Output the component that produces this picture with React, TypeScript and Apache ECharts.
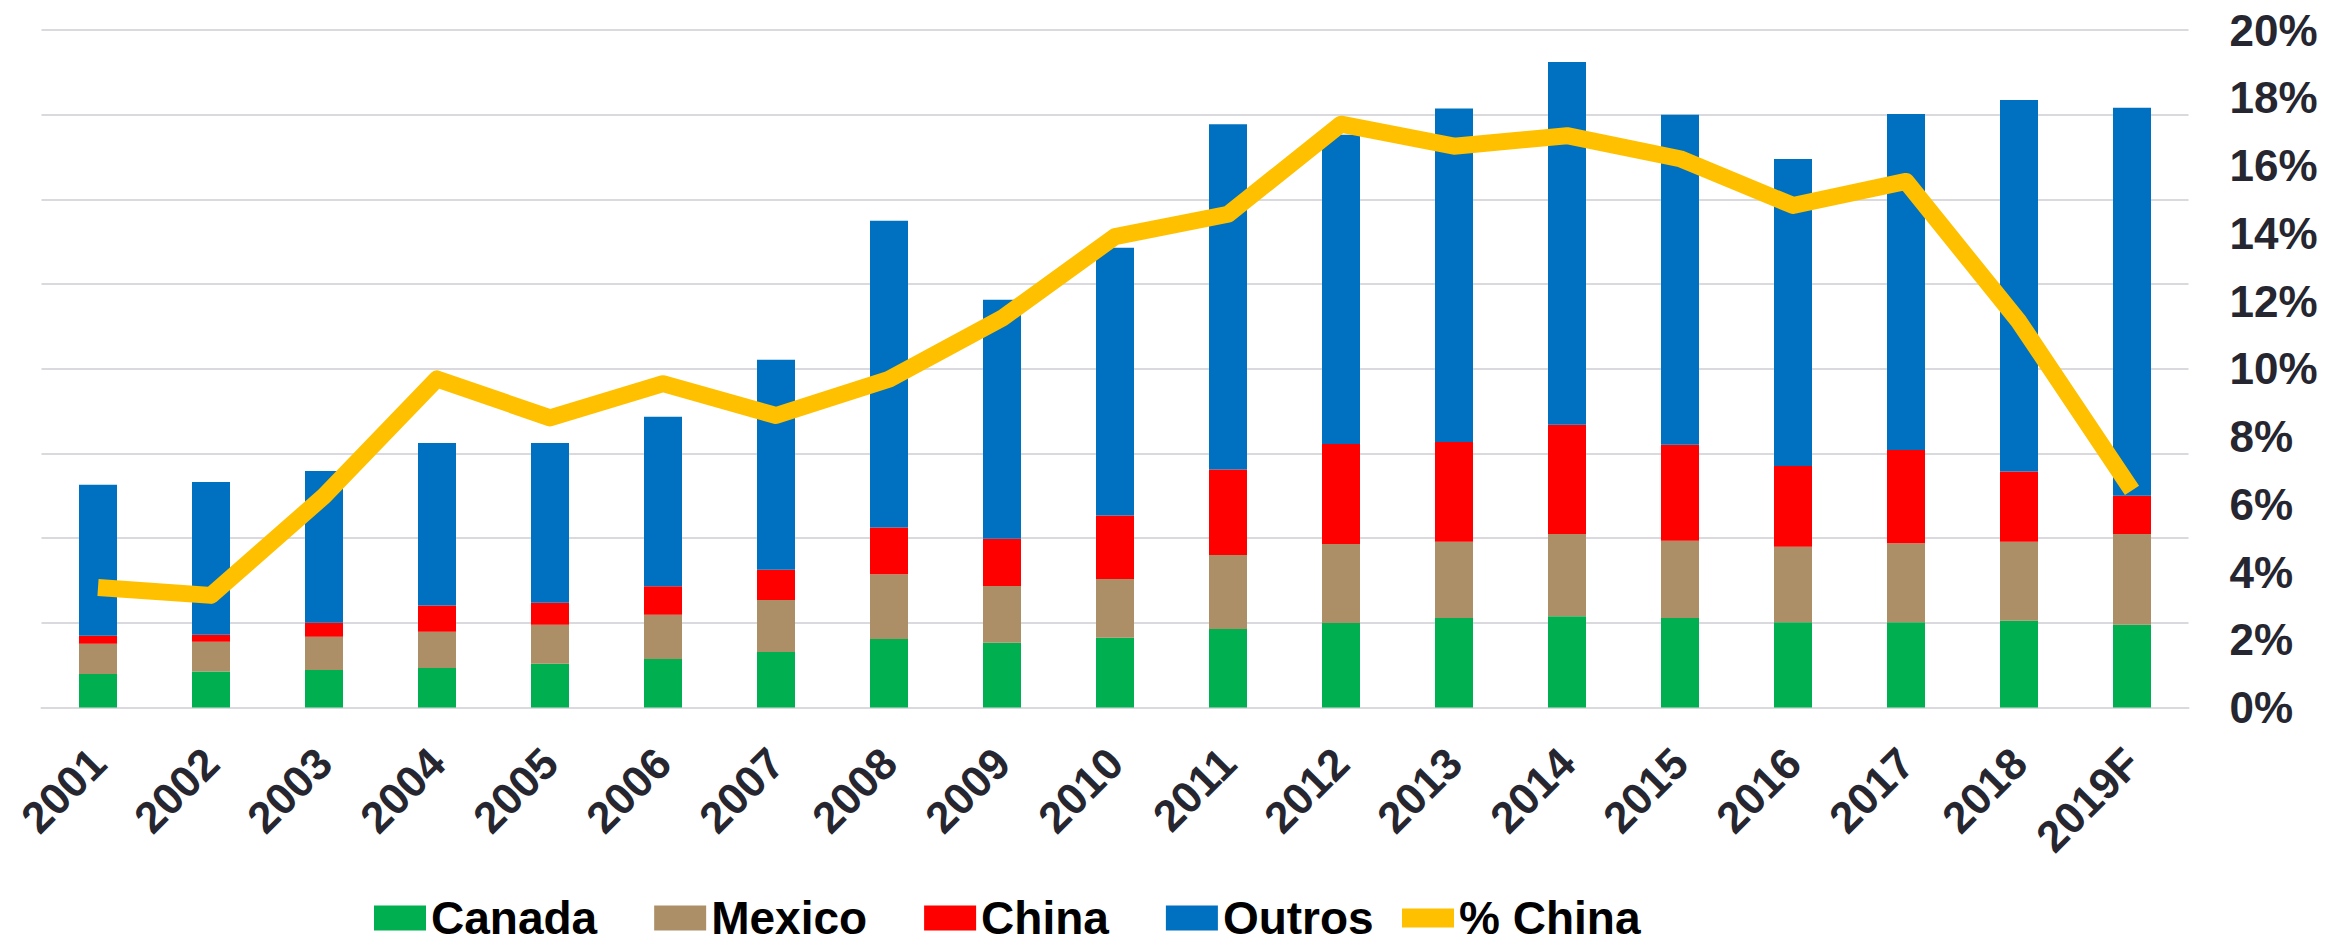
import React, { useEffect, useRef } from "react";
import * as echarts from "echarts";

const categories = ["2001", "2002", "2003", "2004", "2005", "2006", "2007", "2008", "2009", "2010", "2011", "2012", "2013", "2014", "2015", "2016", "2017", "2018", "2019F"];
const canada = [1.98, 2.12, 2.22, 2.33, 2.58, 2.87, 3.28, 4.04, 3.82, 4.12, 4.64, 4.99, 5.29, 5.39, 5.29, 5.04, 5.04, 5.12, 4.88];
const mexico = [1.79, 1.76, 1.96, 2.14, 2.30, 2.60, 3.07, 3.82, 3.36, 3.47, 4.36, 4.66, 4.50, 4.85, 4.55, 4.45, 4.66, 4.66, 5.37];
const china = [0.46, 0.41, 0.82, 1.55, 1.31, 1.69, 1.79, 2.77, 2.79, 3.75, 5.05, 5.91, 5.89, 6.46, 5.67, 4.77, 5.50, 4.15, 2.25];
const outros = [8.92, 9.03, 8.97, 9.60, 9.43, 10.00, 12.39, 18.11, 14.10, 15.80, 20.38, 18.25, 19.68, 21.41, 19.49, 18.13, 19.84, 21.93, 22.91];
const pctChina = [3.54, 3.31, 6.24, 9.70, 8.55, 9.56, 8.62, 9.69, 11.49, 13.90, 14.56, 17.22, 16.57, 16.88, 16.20, 14.82, 15.53, 11.39, 6.41];

const FONT = "'Liberation Sans', Arial, sans-serif";
const AXIS_TEXT = "#262631";
const GRID = "#D9D9DE";

export default function App() {
  const ref = useRef<HTMLDivElement>(null);
  useEffect(() => {
    const chart = echarts.init(ref.current!, null, { renderer: "svg" });
    const legendText = { fontSize: 46, fontWeight: "bold", color: "#000", fontFamily: FONT };
    chart.setOption({
      animation: false,
      backgroundColor: "#fff",
      grid: { left: 41.5, right: 162.5, top: 30, bottom: 240.5, containLabel: false },
      legend: [
        {
          data: ["Canada", "Mexico", "China", "Outros"],
          left: 374,
          top: 895,
          padding: 0,
          itemWidth: 52,
          itemHeight: 25,
          itemGap: 57,
          icon: "rect",
          textStyle: legendText,
        },
        {
          data: ["% China"],
          left: 1402,
          top: 895,
          padding: 0,
          itemWidth: 52,
          itemHeight: 19,
          icon: "rect",
          textStyle: legendText,
        },
      ],
      xAxis: {
        type: "category",
        data: categories,
        axisLine: { show: true, lineStyle: { color: GRID, width: 2 } },
        axisTick: { show: false },
        axisLabel: {
          interval: 0,
          rotate: 45,
          margin: 48,
          fontSize: 44,
          fontWeight: "bold",
          color: AXIS_TEXT,
          fontFamily: FONT,
        },
      },
      yAxis: [
        {
          type: "value",
          min: 0,
          max: 40,
          interval: 5,
          axisLabel: { show: false },
          axisLine: { show: false },
          axisTick: { show: false },
          splitLine: { show: true, lineStyle: { color: GRID, width: 2 } },
        },
        {
          type: "value",
          position: "right",
          min: 0,
          max: 20,
          interval: 2,
          axisLabel: {
            formatter: "{value}%",
            margin: 41,
            fontSize: 44,
            fontWeight: "bold",
            color: AXIS_TEXT,
            fontFamily: FONT,
          },
          axisLine: { show: false },
          axisTick: { show: false },
          splitLine: { show: false },
        },
      ],
      series: [
        { name: "Canada", type: "bar", stack: "total", barWidth: 38, data: canada, itemStyle: { color: "#00B050" } },
        { name: "Mexico", type: "bar", stack: "total", barWidth: 38, data: mexico, itemStyle: { color: "#AD8F67" } },
        { name: "China", type: "bar", stack: "total", barWidth: 38, data: china, itemStyle: { color: "#FF0000" } },
        { name: "Outros", type: "bar", stack: "total", barWidth: 38, data: outros, itemStyle: { color: "#0070C0" } },
        {
          name: "% China",
          type: "line",
          yAxisIndex: 1,
          data: pctChina,
          symbol: "none",
          z: 5,
          itemStyle: { color: "#FFC000" },
          lineStyle: { color: "#FFC000", width: 17, join: "round", cap: "butt" },
        },
      ],
    });
    return () => chart.dispose();
  }, []);
  return (
    <div
      ref={ref}
      style={{ position: "fixed", left: 0, top: 0, width: 2351, height: 948, background: "#fff" }}
    />
  );
}
